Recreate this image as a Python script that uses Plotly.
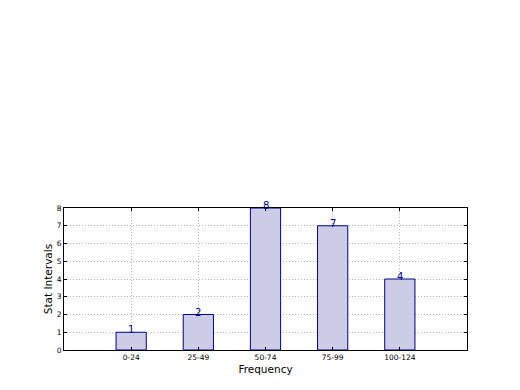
import plotly.graph_objects as go

categories = ["0-24", "25-49", "50-74", "75-99", "100-124"]
values = [1, 2, 8, 7, 4]
y_ticks = [0, 1, 2, 3, 4, 5, 6, 7, 8]

xs = list(range(len(categories)))

fig = go.Figure()
fig.add_trace(go.Bar(
    x=xs, y=values, width=0.45,
    marker=dict(color="#ccccE6", line=dict(color="#000080", width=1)),
    showlegend=False, hoverinfo="skip",
))
for x, v in zip(xs, values):
    fig.add_annotation(x=x, y=v, text=str(v), showarrow=False, yanchor="bottom",
                       yshift=-5, font=dict(family="DejaVu Sans", size=10, color="#000080"))

font = dict(family="DejaVu Sans", color="black")
grid = dict(showgrid=True, gridcolor="#b4b4b4", griddash="1px,2px", gridwidth=1)
fig.update_layout(
    width=520, height=390, margin=dict(l=64, r=53, t=208, b=40),
    paper_bgcolor="white", plot_bgcolor="white",
    font=font,
    xaxis=dict(range=[-1, 5], tickmode="array", tickvals=xs, ticktext=categories,
               tickfont=dict(size=7.5), **grid, showline=True, linecolor="black", mirror="ticks",
               ticks="inside", ticklen=3, tickcolor="black", zeroline=False,
               title=dict(text="Frequency", font=dict(size=10.5), standoff=4)),
    yaxis=dict(range=[0, 8], tickmode="array", tickvals=y_ticks,
               tickfont=dict(size=7.5), **grid, showline=True, linecolor="black", mirror="ticks",
               ticks="inside", ticklen=3, tickcolor="black", zeroline=False,
               title=dict(text="Stat Intervals", font=dict(size=10.5), standoff=2)),
)
fig.write_html("out.html")
